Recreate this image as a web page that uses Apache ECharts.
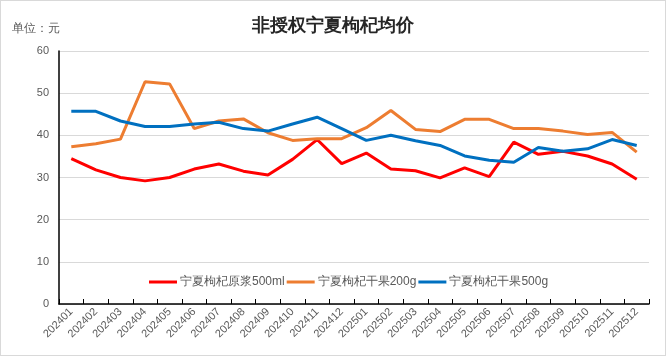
<!DOCTYPE html>
<html><head><meta charset="utf-8">
<script src="https://cdn.jsdelivr.net/npm/echarts@6/dist/echarts.min.js"></script>
<style>html,body{margin:0;padding:0;background:#fff}#c{width:666px;height:356px;box-sizing:border-box;border:1px solid #d9d9d9}</style>
</head><body><div id="c"></div>
<script>
const categories = ['202401','202402','202403','202404','202405','202406','202407','202408','202409','202410','202411','202412','202501','202502','202503','202504','202505','202506','202507','202508','202509','202510','202511','202512'];
const seriesNames = ['宁夏枸杞原浆500ml','宁夏枸杞干果200g','宁夏枸杞干果500g'];
const yuanjiang500 = [34.5,31.8,30.0,29.2,30.0,32.0,33.2,31.5,30.6,34.3,39.0,33.3,35.8,32.0,31.6,29.9,32.3,30.2,38.4,35.5,36.2,35.1,33.2,29.6];
const ganguo200 = [37.3,38.0,39.1,52.7,52.2,41.6,43.4,43.9,40.6,38.8,39.2,39.2,41.8,45.9,41.4,40.9,43.8,43.8,41.6,41.6,41.0,40.2,40.7,36.0];
const ganguo500 = [45.7,45.7,43.4,42.1,42.1,42.7,43.1,41.6,41.0,42.7,44.3,41.6,38.8,40.0,38.7,37.6,35.1,34.1,33.6,37.1,36.2,36.8,39.0,37.6];
const colors = ['#ff0000','#ed7d31','#0070c0'];
const datasets = [yuanjiang500, ganguo200, ganguo500];

const chart = echarts.init(document.getElementById('c'));
chart.setOption({
  animation:false,
  title:[
    {text:'非授权宁夏枸杞均价',left:'center',top:11,textStyle:{fontFamily:'serif',fontSize:18,fontWeight:'bold',color:'#262626'}},
    {text:'单位：元',left:6,top:17,textStyle:{fontSize:12,fontWeight:'normal',color:'#595959'}}
  ],
  legend:{
    top:270,left:143,itemWidth:28,itemHeight:3,itemGap:2,
    icon:'rect',
    textStyle:{fontSize:12,color:'#595959',padding:[0,0,0,-2]},
    data:seriesNames
  },
  grid:{left:58,right:16,top:50,bottom:51,containLabel:false},
  xAxis:{
    type:'category',data:categories,boundaryGap:true,
    axisLine:{lineStyle:{color:'#000',width:1.5}},
    axisTick:{show:true,alignWithLabel:false,lineStyle:{color:'#000'},length:5,inside:true},
    axisLabel:{rotate:45,fontSize:11,color:'#595959',margin:6,interval:0}
  },
  yAxis:{
    type:'value',min:0,max:60,interval:10,
    axisLine:{show:true,lineStyle:{color:'#000',width:1.5}},
    axisTick:{show:false},
    axisLabel:{fontSize:11,color:'#595959',margin:10},
    splitLine:{lineStyle:{color:'#d9d9d9',width:1}}
  },
  series: seriesNames.map((n,i)=>({
    name:n,type:'line',data:datasets[i],symbol:'none',
    lineStyle:{width:3,color:colors[i]},itemStyle:{color:colors[i]}
  }))
});
</script></body></html>
